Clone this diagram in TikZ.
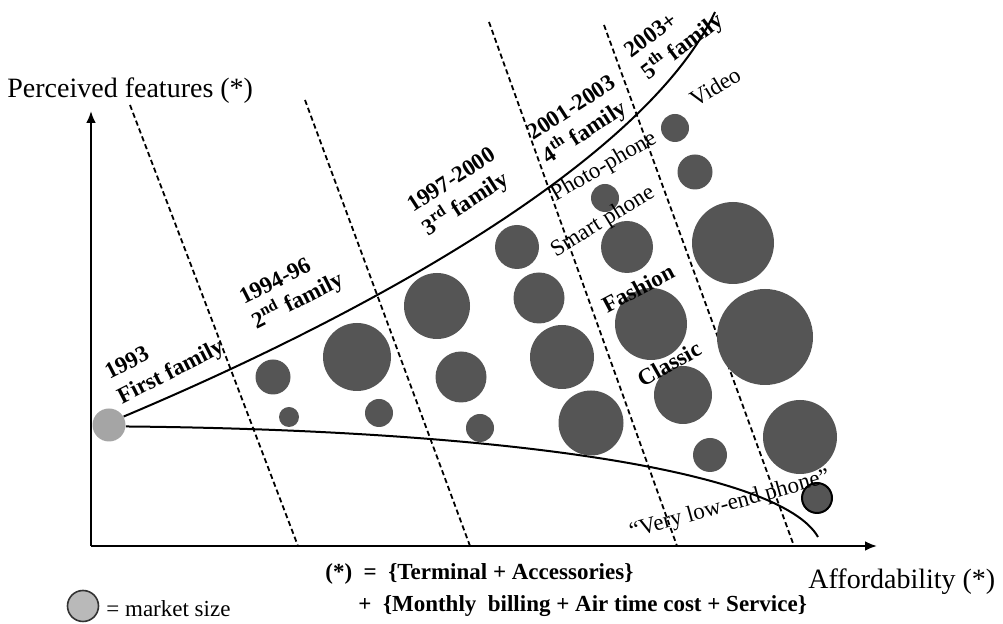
\documentclass[tikz,border=0pt]{standalone}
\usepackage{fontspec}
\setmainfont{Liberation Serif}
\usetikzlibrary{arrows.meta}
\definecolor{bub}{RGB}{85,85,85}
\definecolor{firstbub}{RGB}{165,165,165}
\definecolor{legbub}{RGB}{185,185,185}
\begin{document}
\begin{tikzpicture}[x=0.5pt,y=-0.5pt,
  bubble/.style={circle,fill=bub,inner sep=0pt,draw=none},
  yearlab/.style={font=\fontsize{11.5}{13.8}\selectfont\bfseries,align=left,inner sep=0pt},
  seglab/.style={font=\fontsize{11.5}{13.8}\selectfont,inner sep=0pt},
  seglabb/.style={font=\fontsize{11.5}{13.8}\selectfont\bfseries,inner sep=0pt},
  axislab/.style={font=\fontsize{14}{16}\selectfont,inner sep=0pt,anchor=west},
  axisline/.style={line width=1.3pt,-{Latex[length=6pt,width=5pt]}},
  famline/.style={dashed,line width=0.9pt,dash pattern=on 2.6pt off 1.6pt},
  curve/.style={line width=1pt}]
\useasboundingbox (0,0) rectangle (1003,624);
% axes
\coordinate (O) at (91,546);
\coordinate (Ytop) at (91,111);
\coordinate (Xend) at (877,546);
\draw[axisline] (O) -- (Ytop);
\draw[axisline] (O) -- (Xend);
\node[axislab] (ylab) at (7,91) {Perceived features (*)};
\node[axislab] (xlab) at (808,582) {Affordability (*)};
% family dashed lines
\coordinate (d1a) at (130,105); \coordinate (d1b) at (298,546);
\coordinate (d2a) at (305,100); \coordinate (d2b) at (470,546);
\coordinate (d3a) at (489,22);  \coordinate (d3b) at (677,546);
\coordinate (d4a) at (604,25);  \coordinate (d4b) at (794,546);
\draw[famline] (d1a) -- (d1b);
\draw[famline] (d2a) -- (d2b);
\draw[famline] (d3a) -- (d3b);
\draw[famline] (d4a) -- (d4b);
% first family bubble
\node[circle,fill=firstbub,inner sep=0pt,minimum size=16.5pt] (g93) at (109,425) {};
% curves
\coordinate (uend) at (715,12);
\coordinate (lend) at (818,537);
\draw[curve] (g93.30) .. controls (400,300) and (650,150) .. (uend);
\draw[curve] (g93.-5) .. controls (500,430) and (780,470) .. (lend);
% bubbles 2nd family
\node[bubble,minimum size=17.5pt] (b1) at (273,377) {};
\node[bubble,minimum size=10pt] (b2) at (289,417) {};
\node[bubble,minimum size=34pt] (b3) at (357,357) {};
\node[bubble,minimum size=14pt] (b4) at (379,413) {};
% 3rd family
\node[bubble,minimum size=33pt] (b5) at (437,306) {};
\node[bubble,minimum size=25.5pt] (b6) at (461,377) {};
\node[bubble,minimum size=14pt] (b7) at (480,428) {};
\node[bubble,minimum size=22pt] (b8) at (517,247) {};
\node[bubble,minimum size=25.5pt] (b9) at (539,298) {};
\node[bubble,minimum size=32pt] (b10) at (562,357) {};
\node[bubble,minimum size=32.5pt] (b11) at (591,423) {};
% 4th family
\node[bubble,minimum size=14pt] (b12) at (605,198) {};
\node[bubble,minimum size=26pt] (b13) at (627,247) {};
\node[bubble,minimum size=36pt] (b14) at (651,324) {};
\node[bubble,minimum size=29pt] (b15) at (683,395) {};
\node[bubble,minimum size=17pt] (b16) at (710,455) {};
% 5th family
\node[bubble,minimum size=14pt] (b17) at (675,128) {};
\node[bubble,minimum size=17.5pt] (b18) at (695,172) {};
\node[bubble,minimum size=41pt] (b19) at (733,243) {};
\node[bubble,minimum size=48pt] (b20) at (765,337) {};
\node[bubble,minimum size=37pt] (b21) at (800,437) {};
\node[bubble,minimum size=15pt,draw=black,line width=1pt] (b22) at (817,498) {};
% year labels
\node[yearlab,rotate=27] (y1) at (165,361) {1993\\First family};
\node[yearlab,rotate=27] (y2) at (292,290) {1994-96\\2\textsuperscript{nd} family};
\node[yearlab,rotate=33] (y3) at (460,193) {1997-2000\\3\textsuperscript{rd} family};
\node[yearlab,rotate=33] (y4) at (580,121) {2001-2003\\4\textsuperscript{th} family};
\node[yearlab,rotate=37] (y5) at (675,37) {2003+\\5\textsuperscript{th} family};
% segment labels
\node[seglab,rotate=31] (video) at (715,87) {Video};
\node[seglab,rotate=30] (photo) at (604,167) {Photo-phone};
\node[seglab,rotate=31.5] (smart) at (603,222) {Smart phone};
\node[seglabb,rotate=28] (fashion) at (638,288) {Fashion};
\node[seglabb,rotate=29.5] (classic) at (669,364) {Classic};
\node[seglab,rotate=15.7] (low) at (730,505) {``Very low-end phone''};
% legend
\node[circle,fill=legbub,draw=black!80,line width=0.8pt,inner sep=0pt,minimum size=15.5pt] (leg) at (83,606) {};
\node[seglab,anchor=west] (legtxt) at (106,609) {= market size};
\node[seglabb,anchor=west] (def1) at (325,574) {(*)\ \ =\ \ \{Terminal + Accessories\}};
\node[seglabb,anchor=west] (def2) at (358,606) {+\ \ \{Monthly\ \ billing + Air time cost + Service\}};
\end{tikzpicture}
\end{document}
